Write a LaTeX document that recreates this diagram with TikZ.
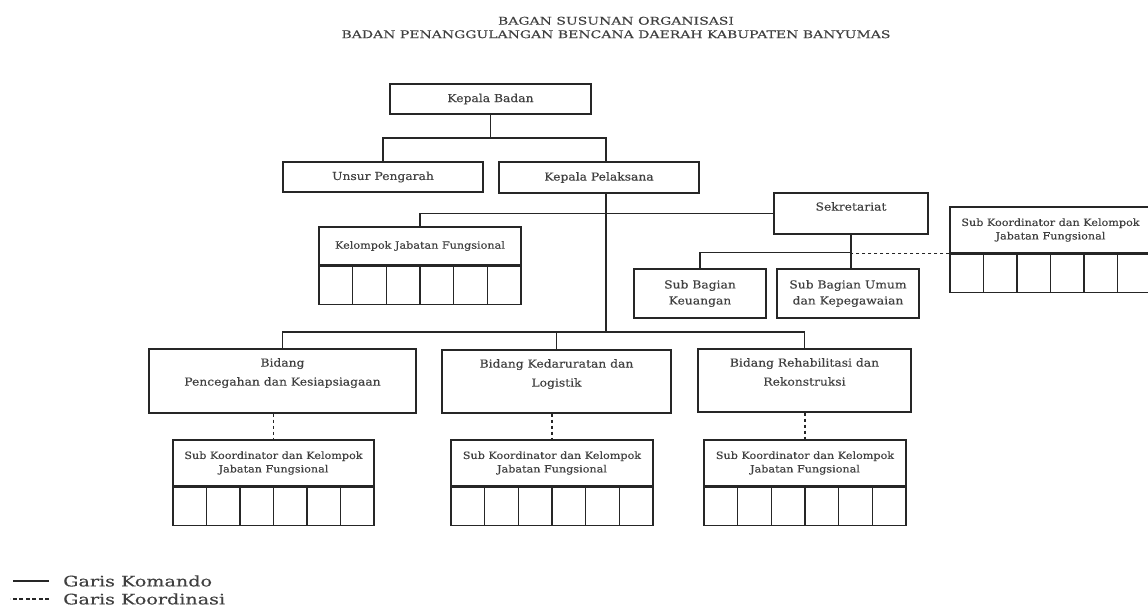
\documentclass[tikz,border=0pt]{standalone}
\usepackage{fontspec}
\setmainfont{DejaVu Serif}[FakeStretch=1.12,FakeBold=0.3]
\newfontfamily\judulfont{DejaVu Serif}[FakeStretch=1.32,FakeBold=0.3]
\usetikzlibrary{positioning,calc}

\begin{document}
\begin{tikzpicture}[x=1pt,y=-1pt] % one unit is one pixel, y runs downwards
\tikzset{every node/.style={text=black!75}}
\tikzset{kotak/.style={draw=black!85,line width=1.2pt,rectangle,inner sep=0pt,align=center,font=\fontsize{11}{16}\selectfont}} % plain box
\tikzset{kecil/.style={font=\fontsize{10}{13.5}\selectfont}} % smaller text in the sub boxes
\tikzset{atas/.style={label={[anchor=north,yshift=-9.6pt,inner sep=0pt,align=center,font=\fontsize{11}{19}\selectfont]north:{#1}}}} % text at the top of a box
\tikzset{sel/.style={kotak,minimum width=#1,minimum height=38pt,path picture={
  \foreach \k in {1,...,5}
    \draw[black!85,line width=1.2pt] ($(path picture bounding box.north west)!\k/6!(path picture bounding box.north east)$) -- ($(path picture bounding box.south west)!\k/6!(path picture bounding box.south east)$);}}} % row of six empty cells
\tikzset{garis/.style={draw=black!85,line width=1.1pt}} % garis komando
\tikzset{koordinasi/.style={garis,dash pattern=on 3.5pt off 2.5pt}} % garis koordinasi

\useasboundingbox (0,0) rectangle (1148,606);

\node[align=center,inner sep=0pt,font=\judulfont\fontsize{10.6}{13.5}\selectfont] (judul) at (616,27.5) {BAGAN SUSUNAN ORGANISASI\\BADAN PENANGGULANGAN BENCANA DAERAH KABUPATEN BANYUMAS};

% pimpinan
\node[kotak,minimum width=201pt,minimum height=30pt] (kb) at (490.5,99) {Kepala Badan};
\node[kotak,minimum width=200pt,minimum height=30pt] (up) at (383,177) {Unsur Pengarah};
\node[kotak,minimum width=200pt,minimum height=31pt] (kp) at (599,177.5) {Kepala Pelaksana};
\coordinate (cabang) at (606,138);
\coordinate (bus) at (606,332);

% sekretariat
\node[kotak,minimum width=154pt,minimum height=41pt,atas=Sekretariat] (sek) at (851,213.5) {};
\node[kotak,minimum width=132pt,minimum height=49pt] (keu) at (700,293.5) {Sub Bagian\\Keuangan};
\node[kotak,minimum width=142pt,minimum height=49pt] (umum) at (848,293.5) {Sub Bagian Umum\\dan Kepegawaian};
\node[kotak,kecil,minimum width=201pt,minimum height=46pt] (skk) at (1050.5,230) {Sub Koordinator dan Kelompok\\Jabatan Fungsional};
\node[sel=201pt,below=0pt of skk] (skksel) {};
\coordinate (sekbus) at ($(sek.south)+(0,17.5)$);

\node[kotak,kecil,minimum width=202pt,minimum height=38pt] (kjf) at (420,246) {Kelompok Jabatan Fungsional};
\node[sel=202pt,below=0pt of kjf] (kjfsel) {};

% bidang
\node[kotak,minimum width=267pt,minimum height=64pt,atas={Bidang\\Pencegahan dan Kesiapsiagaan}] (bp) at (282.5,381) {};
\node[kotak,minimum width=229pt,minimum height=63pt,atas={Bidang Kedaruratan dan\\Logistik}] (bk) at (556.5,381.5) {};
\node[kotak,minimum width=213pt,minimum height=63pt,atas={Bidang Rehabilitasi dan\\Rekonstruksi}] (br) at (804.5,380.5) {};

\node[kotak,kecil,minimum width=201pt,minimum height=46pt] (sk1) at (273.5,463) {Sub Koordinator dan Kelompok\\Jabatan Fungsional};
\node[sel=201pt,below=0pt of sk1] (sk1sel) {};
\node[kotak,kecil,minimum width=202pt,minimum height=46pt] (sk2) at (552,463) {Sub Koordinator dan Kelompok\\Jabatan Fungsional};
\node[sel=202pt,below=0pt of sk2] (sk2sel) {};
\node[kotak,kecil,minimum width=202pt,minimum height=46pt] (sk3) at (805,463) {Sub Koordinator dan Kelompok\\Jabatan Fungsional};
\node[sel=202pt,below=0pt of sk3] (sk3sel) {};

% garis komando
\draw[garis] (kb.south) -- (kb.south |- cabang);
\draw[garis] (up.north) |- (cabang) -- (kp.north -| cabang);
\draw[garis] (kp.south -| cabang) -- (bus);
\draw[garis] (kjf.north) |- (sek.west);
\draw[garis] (sek.south) -- (sek.south |- umum.north);
\draw[garis] (keu.north) |- (sekbus);
\draw[garis] (bp.north) |- (bus) -| (br.north);
\draw[garis] (bk.north) -- (bk.north |- bus);

% garis koordinasi
\draw[koordinasi] (skk.south west) -- (skk.south west -| sek.south);
\draw[koordinasi] (sk1.north |- bp.south) -- (sk1.north);
\draw[koordinasi] (sk2.north |- bk.south) -- (sk2.north);
\draw[koordinasi] (sk3.north |- br.south) -- (sk3.north);

% keterangan
\node[anchor=west,inner sep=0pt,font=\judulfont\fontsize{14.5}{16}\selectfont] (legkomando) at (63,581) {Garis Komando};
\draw[garis] ([xshift=-14pt]legkomando.west) -- ++(-36,0);
\node[anchor=west,inner sep=0pt,font=\judulfont\fontsize{14.5}{16}\selectfont] (legkoordinasi) at (63,599) {Garis Koordinasi};
\draw[koordinasi,dash pattern=on 4pt off 2.5pt] ([xshift=-14pt]legkoordinasi.west) -- ++(-39,0);
\end{tikzpicture}
\end{document}
